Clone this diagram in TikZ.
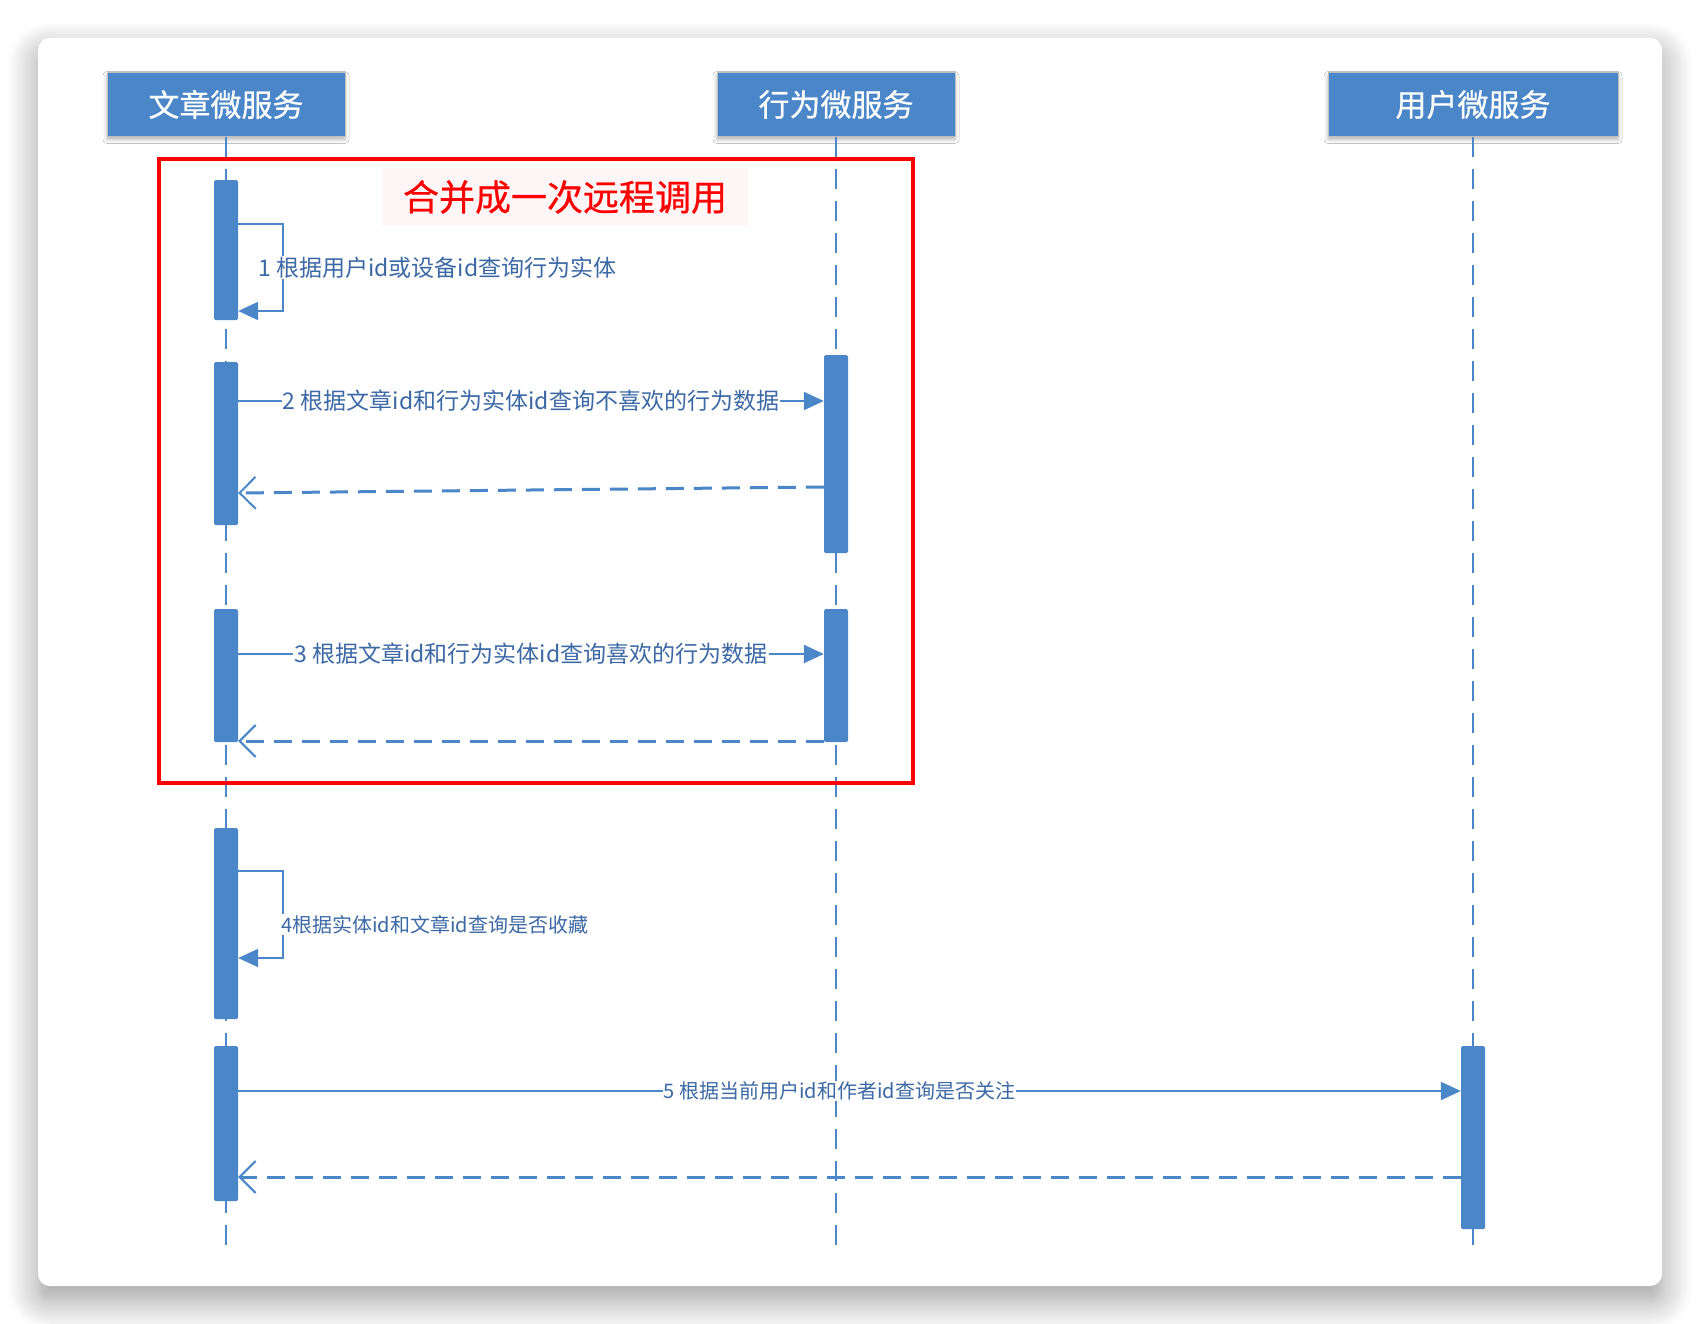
\documentclass[tikz,border=0pt]{standalone}
\usepackage{fontspec}
\setmainfont{Noto Sans CJK SC}
\newfontfamily\headfont{Noto Sans CJK SC}[FakeBold=0.6]
\usepackage{tikz}
\usetikzlibrary{positioning}
\usetikzlibrary{arrows.meta}
\usetikzlibrary{shadows.blur}
\definecolor{svcblue}{RGB}{74,134,200}
\definecolor{msgtext}{RGB}{60,105,165}
\tikzset{
svc_head/.style={rectangle, fill=svcblue, draw=gray!50, line width=1pt, minimum width=238pt, minimum height=64pt, text=white, font=\headfont\fontsize{31}{36}\selectfont, blur shadow={shadow xshift=0pt, shadow yshift=-3pt, shadow blur radius=4pt, shadow opacity=30}},
act_bar/.style={rectangle, fill=svcblue, minimum width=24pt, inner sep=0pt, rounded corners=1.5pt},
life_line/.style={svcblue, line width=2pt, dash pattern=on 20pt off 12pt},
call_line/.style={svcblue, line width=2.2pt, -{Triangle[length=20pt, width=18pt]}},
reply_line/.style={svcblue, line width=3pt, dash pattern=on 18pt off 10pt, -{Straight Barb[length=16pt, width=32pt, line width=2pt]}},
call_label/.style={fill=white, text=msgtext, inner sep=1pt, font=\fontsize{23}{26}\selectfont},
small_label/.style={call_label, font=\fontsize{20}{23}\selectfont},
merge_frame/.style={draw=red, line width=4pt},
merge_label/.style={fill=red!3, text=red, minimum width=366pt, minimum height=58pt, font=\headfont\fontsize{36}{40}\selectfont}
}

\begin{document}
\begin{tikzpicture}[x=1pt, y=-1pt]
    \useasboundingbox (0,0) rectangle (1700,1324);
    \path[fill=white, rounded corners=12pt, blur shadow={shadow xshift=0pt, shadow yshift=-14pt, shadow blur radius=30pt, shadow opacity=40, shadow blur steps=15}] (38,38) rectangle (1662,1286);

    \node[svc_head] (wz_head) at (226,104.5) {文章微服务};
    \node[svc_head] (xw_head) [right=371pt of wz_head] {行为微服务};
    \node[svc_head, minimum width=290pt] (yh_head) [right=372pt of xw_head] {用户微服务};

    \coordinate[below=1115pt of wz_head.south] (wz_end);
    \coordinate[below=1115pt of xw_head.south] (xw_end);
    \coordinate[below=1115pt of yh_head.south] (yh_end);
    \draw[life_line] (wz_head) -- (wz_end);
    \draw[life_line] (xw_head) -- (xw_end);
    \draw[life_line] (yh_head) -- (yh_end);

    \node[act_bar, minimum height=140pt, below=43pt of wz_head] (wz_1) {};
    \node[act_bar, minimum height=163pt, below=225pt of wz_head] (wz_2) {};
    \node[act_bar, minimum height=133pt, below=472pt of wz_head] (wz_3) {};
    \node[act_bar, minimum height=191pt, below=691pt of wz_head] (wz_4) {};
    \node[act_bar, minimum height=155pt, below=909pt of wz_head] (wz_5) {};
    \node[act_bar, minimum height=198pt, below=218pt of xw_head] (xw_1) {};
    \node[act_bar, minimum height=133pt, below=472pt of xw_head] (xw_2) {};
    \node[act_bar, minimum height=183pt, below=909pt of yh_head] (yh_1) {};

    \draw[call_line] ([yshift=-44pt]wz_1.north east) -- ++(45,0) -- ++(0,87) node[midway, call_label, anchor=west, xshift=-27pt] {1 根据用户id或设备id查询行为实体} -- ([yshift=-131pt]wz_1.north east);

    \draw[call_line] ([yshift=-39pt]wz_2.north east) -- node[call_label] {2 根据文章id和行为实体id查询不喜欢的行为数据} ([yshift=-46pt]xw_1.north west);
    \draw[reply_line] ([yshift=-132pt]xw_1.north west) -- ([yshift=-131pt]wz_2.north east);

    \draw[call_line] ([yshift=-45pt]wz_3.north east) -- node[call_label] {3 根据文章id和行为实体id查询喜欢的行为数据} ([yshift=-45pt]xw_2.north west);
    \draw[reply_line] ([yshift=-132pt]xw_2.north west) -- ([yshift=-132pt]wz_3.north east);

    \draw[call_line] ([yshift=-43pt]wz_4.north east) -- ++(45,0) -- ++(0,87) node[midway, small_label, anchor=west, xshift=-4pt, yshift=-10pt] {4根据实体id和文章id查询是否收藏} -- ([yshift=-130pt]wz_4.north east);

    \draw[call_line] ([yshift=-45pt]wz_5.north east) -- node[small_label, xshift=-10pt] {5 根据当前用户id和作者id查询是否关注} ([yshift=-45pt]yh_1.north west);
    \draw[reply_line] ([yshift=-131pt]yh_1.north west) -- ([yshift=-131pt]wz_5.north east);

    \draw[merge_frame] (159,159) rectangle (913,783);
    \node[merge_label] (merge_title) at (565,197) {合并成一次远程调用};
\end{tikzpicture}
\end{document}
